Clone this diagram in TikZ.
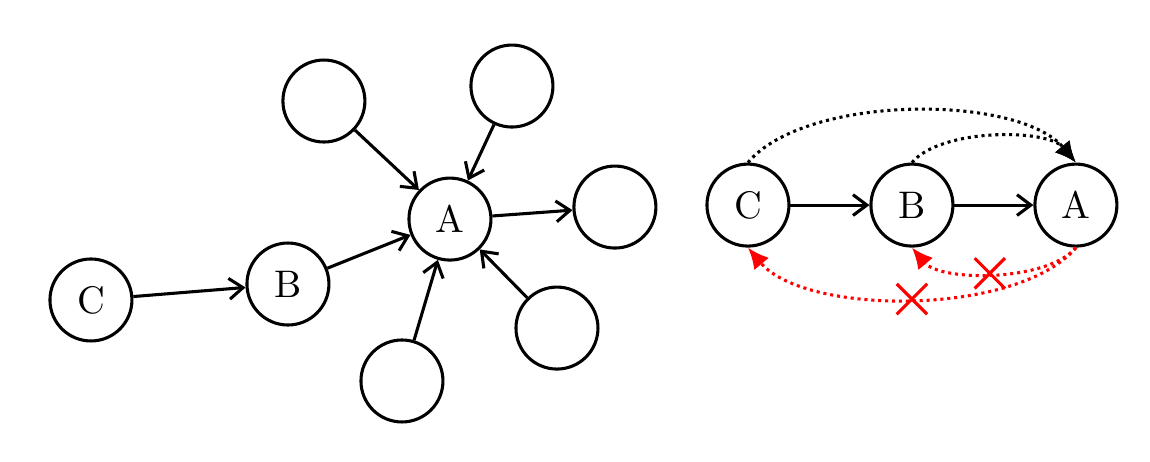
\documentclass[tikz,border=0pt]{standalone}
\usetikzlibrary{shapes.misc,arrows.meta}
\begin{document}
\begin{tikzpicture}[thick,>={Straight Barb[length=3.6pt,width=5.4pt]}]
  \tikzstyle{var}=[draw,circle,minimum size=0.75cm,inner sep=0pt]
  \tikzstyle{cut}=[draw=red,solid,cross out,minimum size=0.25cm,inner sep=0pt,thick]
  \tikzstyle{dep}=[-{Latex[length=5.5pt,width=5pt]},densely dotted,bend left=50,looseness=0.7]
  \useasboundingbox (0,0) rectangle (10.52,4.217);
  % left: many parents of A
  \node[var] (lc) at (0.832,1.473) {C};
  \node[var] (lb) at (2.634,1.619) {B};
  \node[var] (la) at (4.116,2.213) {A};
  \node[var] (p1) at (2.963,3.293) {};
  \node[var] (p2) at (4.683,3.430) {};
  \node[var] (p3) at (5.625,2.323) {};
  \node[var] (p4) at (5.095,1.216) {};
  \node[var] (p5) at (3.677,0.732) {};
  \draw[->] (lc) -- (lb);
  \draw[->] (lb) -- (la);
  \draw[->] (p1) -- (la);
  \draw[->] (p2) -- (la);
  \draw[->] (la) -- (p3);
  \draw[->] (p4) -- (la);
  \draw[->] (p5) -- (la);
  % right: chain
  \node[var] (rc) at (6.842,2.341) {C};
  \node[var] (rb) at (8.342,2.341) {B};
  \node[var] (ra) at (9.842,2.341) {A};
  \draw[->] (rc) -- (rb);
  \draw[->] (rb) -- (ra);
  \draw[dep] (rc.north) to (ra.north);
  \draw[dep] (rb.north) to (ra.north);
  \draw[dep,red] (ra.south) to node[cut,pos=0.52] (x1) {} (rb.south);
  \draw[dep,red] (ra.south) to node[cut,pos=0.5] (x2) {} (rc.south);
\end{tikzpicture}
\end{document}
